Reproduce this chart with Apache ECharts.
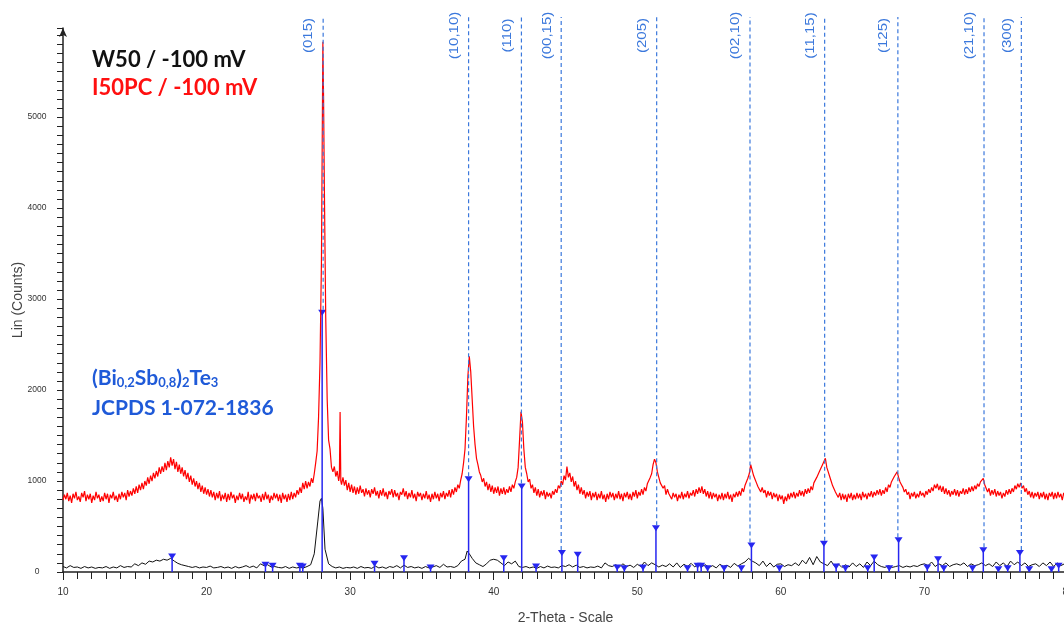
<!DOCTYPE html>
<html lang="en" style="height: 100%">
<head>
<meta charset="utf-8">
<title>XRD W50 / I50PC</title>
</head>
<body style="height: 100%; margin: 0; background: #fff">
<div id="container" style="width: 1064px; height: 623px"></div>

<script type="text/javascript" src="https://cdn.jsdelivr.net/npm/echarts/dist/echarts.min.js"></script>

<script type="text/javascript">

// W50 / -100 mV  (2-theta, counts)
var w50 = [
    [10.0,60],[10.25,45],[10.5,70],[10.75,50],[11.0,55],[11.25,40],[11.5,60],[11.75,45],[12.0,55],[12.25,40],
    [12.5,50],[12.75,45],[13.0,60],[13.25,40],[13.5,55],[13.75,45],[14.0,70],[14.25,50],[14.5,60],[14.75,55],
    [15.0,90],[15.25,70],[15.5,100],[15.75,85],[16.0,120],[16.25,110],[16.5,130],[16.75,120],[17.0,140],[17.25,130],
    [17.5,150],[17.75,120],[18.0,95],[18.25,80],[18.5,70],[18.75,60],[19.0,50],[19.25,60],[19.5,45],[19.75,55],
    [20.0,50],[20.25,65],[20.5,45],[20.75,50],[21.0,60],[21.25,45],[21.5,55],[21.75,40],[22.0,60],[22.25,45],
    [22.5,55],[22.75,70],[23.0,50],[23.25,65],[23.5,45],[23.75,90],[24.0,70],[24.25,80],[24.5,55],[24.75,60],
    [25.0,50],[25.25,45],[25.5,60],[25.75,40],[26.0,55],[26.25,45],[26.5,50],[26.75,45],[27.0,60],[27.25,80],
    [27.5,200],[27.75,560],[27.9,780],[28.0,810],[28.1,700],[28.25,250],[28.5,90],[28.75,60],[29.0,45],[29.25,55],
    [29.5,40],[29.75,50],[30.0,45],[30.25,55],[30.5,40],[30.75,60],[31.0,45],[31.25,50],[31.5,40],[31.75,65],
    [32.0,45],[32.25,55],[32.5,40],[32.75,60],[33.0,50],[33.25,70],[33.5,45],[33.75,75],[34.0,50],[34.25,60],
    [34.5,45],[34.75,55],[35.0,40],[35.25,60],[35.5,45],[35.75,55],[36.0,70],[36.25,50],[36.5,85],[36.75,55],
    [37.0,60],[37.25,50],[37.5,70],[37.75,120],[38.0,140],[38.15,230],[38.3,200],[38.5,150],[38.75,100],[39.0,80],
    [39.25,60],[39.5,90],[39.75,130],[40.0,140],[40.25,130],[40.5,100],[40.75,70],[41.0,110],[41.25,90],[41.5,120],
    [41.75,60],[42.0,50],[42.25,60],[42.5,45],[42.75,55],[43.0,40],[43.25,60],[43.5,45],[43.75,65],[44.0,50],
    [44.25,55],[44.5,45],[44.75,70],[45.0,60],[45.25,80],[45.5,55],[45.75,75],[46.0,50],[46.25,60],[46.5,45],
    [46.75,55],[47.0,50],[47.25,65],[47.5,45],[47.75,100],[48.0,70],[48.25,60],[48.5,80],[48.75,55],[49.0,90],
    [49.25,60],[49.5,75],[49.75,50],[50.0,85],[50.25,60],[50.5,110],[50.75,70],[51.0,100],[51.25,80],[51.5,55],
    [51.75,75],[52.0,60],[52.25,90],[52.5,55],[52.75,100],[53.0,50],[53.25,85],[53.5,60],[53.75,95],[54.0,55],
    [54.25,90],[54.5,60],[54.75,80],[55.0,50],[55.25,70],[55.5,45],[55.75,85],[56.0,60],[56.25,75],[56.5,50],
    [56.75,95],[57.0,65],[57.25,90],[57.5,110],[57.75,150],[58.0,120],[58.25,100],[58.5,70],[58.75,120],[59.0,60],
    [59.25,100],[59.5,55],[59.75,85],[60.0,90],[60.25,60],[60.5,80],[60.75,70],[61.0,100],[61.25,70],[61.5,130],
    [61.75,90],[62.0,160],[62.25,80],[62.5,170],[62.75,110],[63.0,90],[63.25,70],[63.5,120],[63.75,60],[64.0,90],
    [64.25,50],[64.5,80],[64.75,55],[65.0,100],[65.25,60],[65.5,90],[65.75,50],[66.0,110],[66.25,70],[66.5,120],
    [66.75,80],[67.0,60],[67.25,50],[67.5,70],[67.75,50],[68.0,60],[68.25,70],[68.5,50],[68.75,65],[69.0,55],
    [69.25,70],[69.5,60],[69.75,80],[70.0,90],[70.25,70],[70.5,110],[70.75,60],[71.0,90],[71.25,70],[71.5,100],
    [71.75,60],[72.0,80],[72.25,90],[72.5,75],[72.75,100],[73.0,60],[73.25,90],[73.5,70],[73.75,80],[74.0,100],
    [74.25,70],[74.5,90],[74.75,60],[75.0,110],[75.25,70],[75.5,100],[75.75,60],[76.0,120],[76.25,80],[76.5,110],
    [76.75,70],[77.0,100],[77.25,60],[77.5,80],[77.75,90],[78.0,60],[78.25,100],[78.5,70],[78.75,110],[79.0,60],
    [79.25,100],[79.5,70],[79.75,90],[80.0,70]
];

// I50PC / -100 mV  (2-theta, counts)
var i50pc = [
    [10.0,790],[10.1,850],[10.2,800],[10.3,870],[10.4,780],[10.5,840],[10.6,760],[10.7,860],[10.8,810],[10.9,880],
    [11.0,790],[11.1,830],[11.2,770],[11.3,870],[11.4,820],[11.5,890],[11.6,780],[11.7,850],[11.8,800],[11.9,860],
    [12.0,760],[12.1,840],[12.2,790],[12.3,880],[12.4,810],[12.5,850],[12.6,770],[12.7,830],[12.8,780],[12.9,870],
    [13.0,800],[13.1,860],[13.2,760],[13.3,850],[13.4,810],[13.5,880],[13.6,790],[13.7,840],[13.8,770],[13.9,860],
    [14.0,800],[14.1,880],[14.2,820],[14.3,870],[14.4,790],[14.5,900],[14.6,830],[14.7,890],[14.8,840],[14.9,920],
    [15.0,860],[15.1,940],[15.2,870],[15.3,960],[15.4,900],[15.5,980],[15.6,910],[15.7,1000],[15.8,950],[15.9,1040],
    [16.0,970],[16.1,1060],[16.2,1000],[16.3,1090],[16.4,1030],[16.5,1110],[16.6,1050],[16.7,1150],[16.8,1080],[16.9,1160],
    [17.0,1100],[17.1,1200],[17.2,1120],[17.3,1220],[17.4,1150],[17.5,1260],[17.6,1170],[17.7,1240],[17.8,1130],[17.9,1210],
    [18.0,1100],[18.1,1180],[18.2,1080],[18.3,1150],[18.4,1050],[18.5,1120],[18.6,1020],[18.7,1090],[18.8,990],[18.9,1060],
    [19.0,960],[19.1,1030],[19.2,940],[19.3,1000],[19.4,910],[19.5,980],[19.6,880],[19.7,950],[19.8,860],[19.9,930],
    [20.0,850],[20.1,910],[20.2,830],[20.3,900],[20.4,820],[20.5,880],[20.6,790],[20.7,870],[20.8,810],[20.9,890],
    [21.0,780],[21.1,850],[21.2,800],[21.3,870],[21.4,770],[21.5,860],[21.6,790],[21.7,880],[21.8,810],[21.9,850],
    [22.0,760],[22.1,840],[22.2,790],[22.3,870],[22.4,800],[22.5,860],[22.6,770],[22.7,830],[22.8,790],[22.9,880],
    [23.0,750],[23.1,850],[23.2,800],[23.3,860],[23.4,780],[23.5,870],[23.6,810],[23.7,840],[23.8,770],[23.9,860],
    [24.0,790],[24.1,880],[24.2,800],[24.3,850],[24.4,760],[24.5,840],[24.6,790],[24.7,870],[24.8,810],[24.9,860],
    [25.0,780],[25.1,850],[25.2,760],[25.3,870],[25.4,800],[25.5,850],[25.6,770],[25.7,860],[25.8,790],[25.9,880],
    [26.0,800],[26.1,870],[26.2,820],[26.3,900],[26.4,850],[26.5,930],[26.6,870],[26.7,980],[26.8,910],[26.9,1000],
    [27.0,920],[27.1,990],[27.2,940],[27.3,1030],[27.4,980],[27.5,1080],[27.6,1200],[27.7,1330],[27.8,1700],[27.9,2300],
    [28.0,3400],[28.05,4600],[28.1,5830],[28.15,5200],[28.2,4300],[28.3,2800],[28.4,1900],[28.5,1450],[28.6,1350],[28.7,1150],
    [28.8,1100],[28.9,1160],[29.0,1050],[29.1,1110],[29.2,1000],[29.25,1050],[29.3,1760],[29.35,1000],[29.4,960],[29.5,1040],
    [29.6,950],[29.7,1010],[29.8,900],[29.9,980],
    [30.0,880],[30.1,960],[30.2,870],[30.3,940],[30.4,850],[30.5,930],[30.6,860],[30.7,950],[30.8,870],[30.9,910],
    [31.0,830],[31.1,920],[31.2,850],[31.3,900],[31.4,820],[31.5,910],[31.6,860],[31.7,930],[31.8,840],[31.9,890],
    [32.0,810],[32.1,900],[32.2,840],[32.3,920],[32.4,830],[32.5,880],[32.6,800],[32.7,890],[32.8,850],[32.9,910],
    [33.0,820],[33.1,900],[33.2,830],[33.3,870],[33.4,790],[33.5,880],[33.6,850],[33.7,920],[33.8,830],[33.9,890],
    [34.0,800],[34.1,870],[34.2,820],[34.3,900],[34.4,810],[34.5,860],[34.6,780],[34.7,880],[34.8,830],[34.9,870],
    [35.0,790],[35.1,860],[35.2,810],[35.3,890],[35.4,800],[35.5,850],[35.6,770],[35.7,860],[35.8,800],[35.9,880],
    [36.0,810],[36.1,860],[36.2,780],[36.3,870],[36.4,820],[36.5,890],[36.6,800],[36.7,870],[36.8,830],[36.9,900],
    [37.0,820],[37.1,910],[37.2,850],[37.3,930],[37.4,880],[37.5,960],[37.6,920],[37.7,1010],[37.8,1080],[37.9,1200],
    [38.0,1350],[38.1,1700],[38.2,2150],[38.3,2370],[38.4,2200],[38.5,1900],[38.6,1600],[38.7,1400],[38.8,1250],[38.9,1180],
    [39.0,1100],[39.1,1060],[39.2,990],[39.3,1030],[39.4,940],[39.5,990],[39.6,900],[39.7,970],[39.8,880],[39.9,950],
    [40.0,860],[40.1,930],[40.2,870],[40.3,940],[40.4,840],[40.5,920],[40.6,860],[40.7,930],[40.8,850],[40.9,910],
    [41.0,870],[41.1,940],[41.2,880],[41.3,960],[41.4,920],[41.5,990],[41.6,1040],[41.7,1150],[41.8,1450],[41.9,1760],
    [42.0,1650],[42.1,1350],[42.2,1150],[42.3,1080],[42.4,990],[42.5,1020],[42.6,920],[42.7,960],[42.8,870],[42.9,930],
    [43.0,840],[43.1,910],[43.2,820],[43.3,890],[43.4,840],[43.5,900],[43.6,800],[43.7,880],[43.8,830],[43.9,870],
    [44.0,810],[44.1,890],[44.2,850],[44.3,910],[44.4,870],[44.5,950],[44.6,920],[44.7,1000],[44.8,960],[44.9,1060],
    [45.0,1010],[45.1,1160],[45.2,1040],[45.3,1090],[45.4,990],[45.5,1050],[45.6,940],[45.7,1000],[45.8,900],[45.9,960],
    [46.0,860],[46.1,930],[46.2,850],[46.3,900],[46.4,810],[46.5,880],[46.6,830],[46.7,890],[46.8,790],[46.9,870],
    [47.0,820],[47.1,880],[47.2,790],[47.3,860],[47.4,810],[47.5,890],[47.6,800],[47.7,850],[47.8,770],[47.9,860],
    [48.0,800],[48.1,880],[48.2,820],[48.3,870],[48.4,790],[48.5,860],[48.6,810],[48.7,890],[48.8,800],[48.9,860],
    [49.0,780],[49.1,870],[49.2,820],[49.3,880],[49.4,800],[49.5,860],[49.6,790],[49.7,880],[49.8,830],[49.9,900],
    [50.0,810],[50.1,880],[50.2,840],[50.3,910],[50.4,850],[50.5,930],[50.6,890],[50.7,970],[50.8,950],[50.9,1040],
    [51.0,1080],[51.1,1180],[51.2,1240],[51.3,1200],[51.4,1100],[51.5,1040],[51.6,980],[51.7,1000],[51.8,920],[51.9,950],
    [52.0,850],[52.1,910],[52.2,860],[52.3,880],[52.4,800],[52.5,870],[52.6,820],[52.7,860],[52.8,780],[52.9,850],
    [53.0,810],[53.1,880],[53.2,800],[53.3,860],[53.4,820],[53.5,890],[53.6,810],[53.7,870],[53.8,840],[53.9,900],
    [54.0,830],[54.1,910],[54.2,860],[54.3,930],[54.4,870],[54.5,940],[54.6,860],[54.7,910],[54.8,830],[54.9,890],
    [55.0,810],[55.1,880],[55.2,800],[55.3,870],[55.4,820],[55.5,860],[55.6,780],[55.7,850],[55.8,800],[55.9,870],
    [56.0,790],[56.1,860],[56.2,810],[56.3,880],[56.4,800],[56.5,850],[56.6,770],[56.7,860],[56.8,820],[56.9,880],
    [57.0,830],[57.1,890],[57.2,840],[57.3,920],[57.4,880],[57.5,950],[57.6,960],[57.7,1030],[57.8,1080],[57.9,1180],
    [58.0,1120],[58.1,1060],[58.2,1020],[58.3,980],[58.4,940],[58.5,960],[58.6,880],[58.7,930],[58.8,870],[58.9,900],
    [59.0,820],[59.1,890],[59.2,840],[59.3,880],[59.4,800],[59.5,870],[59.6,820],[59.7,860],[59.8,780],[59.9,850],
    [60.0,800],[60.1,840],[60.2,750],[60.3,830],[60.4,780],[60.5,860],[60.6,800],[60.7,870],[60.8,820],[60.9,880],
    [61.0,810],[61.1,870],[61.2,830],[61.3,900],[61.4,840],[61.5,890],[61.6,830],[61.7,910],[61.8,860],[61.9,920],
    [62.0,870],[62.1,940],[62.2,900],[62.3,980],[62.4,960],[62.5,1040],[62.6,1020],[62.7,1110],[62.8,1100],[62.9,1180],
    [63.0,1160],[63.1,1250],[63.2,1150],[63.3,1100],[63.4,1050],[63.5,1000],[63.6,950],[63.7,960],[63.8,880],[63.9,900],
    [64.0,820],[64.1,870],[64.2,790],[64.3,860],[64.4,800],[64.5,850],[64.6,770],[64.7,860],[64.8,810],[64.9,870],
    [65.0,790],[65.1,850],[65.2,800],[65.3,870],[65.4,810],[65.5,860],[65.6,790],[65.7,880],[65.8,820],[65.9,860],
    [66.0,800],[66.1,870],[66.2,830],[66.3,890],[66.4,820],[66.5,880],[66.6,840],[66.7,900],[66.8,850],[66.9,910],
    [67.0,840],[67.1,900],[67.2,860],[67.3,930],[67.4,880],[67.5,960],[67.6,930],[67.7,990],[67.8,980],[67.9,1050],
    [68.0,1060],[68.1,1100],[68.2,1040],[68.3,990],[68.4,960],[68.5,930],[68.6,880],[68.7,910],[68.8,850],[68.9,880],
    [69.0,800],[69.1,870],[69.2,830],[69.3,880],[69.4,810],[69.5,860],[69.6,820],[69.7,890],[69.8,840],[69.9,870],
    [70.0,820],[70.1,890],[70.2,850],[70.3,910],[70.4,870],[70.5,930],[70.6,890],[70.7,960],[70.8,920],[70.9,970],
    [71.0,900],[71.1,950],[71.2,880],[71.3,940],[71.4,860],[71.5,920],[71.6,850],[71.7,900],[71.8,830],[71.9,890],
    [72.0,850],[72.1,910],[72.2,840],[72.3,900],[72.4,830],[72.5,890],[72.6,860],[72.7,920],[72.8,850],[72.9,910],
    [73.0,860],[73.1,930],[73.2,880],[73.3,940],[73.4,890],[73.5,950],[73.6,910],[73.7,970],[73.8,940],[73.9,990],
    [74.0,1000],[74.1,1030],[74.2,960],[74.3,940],[74.4,880],[74.5,920],[74.6,840],[74.7,900],[74.8,850],[74.9,910],
    [75.0,830],[75.1,890],[75.2,840],[75.3,880],[75.4,810],[75.5,870],[75.6,830],[75.7,900],[75.8,850],[75.9,910],
    [76.0,860],[76.1,920],[76.2,880],[76.3,950],[76.4,910],[76.5,970],[76.6,930],[76.7,980],[76.8,920],[76.9,950],
    [77.0,880],[77.1,920],[77.2,850],[77.3,890],[77.4,820],[77.5,880],[77.6,810],[77.7,870],[77.8,830],[77.9,880],
    [78.0,800],[78.1,870],[78.2,820],[78.3,880],[78.4,800],[78.5,860],[78.6,790],[78.7,870],[78.8,830],[78.9,880],
    [79.0,800],[79.1,870],[79.2,810],[79.3,880],[79.4,820],[79.5,860],[79.6,790],[79.7,870],[79.8,830],[79.9,880],
    [80.0,810]
];

// JCPDS 1-072-1836 reference lines (2-theta, counts)
var refLines = [
    [17.6,170],[24.1,80],[24.6,70],[26.5,70],[26.7,60],[28.05,2850],[31.7,90],[33.75,150],[35.6,50],[38.25,1020],
    [40.7,150],[41.95,940],[42.95,60],[44.75,210],[45.85,190],[48.6,50],[49.1,40],[50.4,50],[51.3,480],[53.5,40],
    [54.2,70],[54.45,70],[54.9,40],[56.05,40],[57.25,40],[57.95,290],[59.9,40],[63.0,310],[63.85,60],[64.5,40],
    [66.05,40],[66.5,160],[67.55,40],[68.2,350],[70.2,50],[70.95,140],[71.35,40],[73.35,40],[74.1,240],[75.15,30],
    [75.8,40],[76.65,210],[77.3,30],[78.85,30],[79.35,70]
];

// indexed reflections
var hklNames = ['(015)', '(10,10)', '(110)', '(00,15)', '(205)', '(02,10)', '(11,15)', '(125)', '(21,10)', '(300)'];
var hklTheta = [28.12, 38.25, 41.93, 44.7, 51.35, 57.85, 63.05, 68.15, 74.15, 76.75];
var hklCounts = [2850, 1020, 940, 210, 480, 290, 310, 350, 240, 210];

var dom = document.getElementById('container');
var myChart = echarts.init(dom, null, { renderer: 'canvas' });

var axisFont = '"Liberation Sans", Arial, sans-serif';
var blue = '#2626f0';
var hklBlue = '#3b78dc';

var option = {
    animation: false,
    backgroundColor: '#ffffff',
    grid: { left: 63, right: -4, top: 28, bottom: 51, outerBoundsMode: 'none', containLabel: false },
    xAxis: {
        type: 'value',
        min: 10,
        max: 80,
        interval: 10,
        name: '2-Theta - Scale',
        nameLocation: 'middle',
        nameGap: 39,
        nameTextStyle: { fontFamily: axisFont, fontSize: 14, color: '#444' },
        axisLine: { lineStyle: { color: '#222', width: 1.5 } },
        axisTick: { length: 8, lineStyle: { color: '#222' } },
        minorTick: { show: true, splitNumber: 10, length: 7, lineStyle: { color: '#222' } },
        axisLabel: { fontFamily: axisFont, fontSize: 10, color: '#333', margin: 15 },
        splitLine: { show: false }
    },
    yAxis: {
        type: 'value',
        min: 0,
        max: 5980,
        interval: 1000,
        name: 'Lin (Counts)',
        nameLocation: 'middle',
        nameGap: 38,
        nameMoveOverlap: false,
        nameTextStyle: { fontFamily: axisFont, fontSize: 14, color: '#444' },
        axisLine: { show: true, symbol: ['none', 'arrow'], symbolSize: [6, 9], lineStyle: { color: '#222', width: 1.5 } },
        axisTick: { show: true, length: 6, lineStyle: { color: '#222' } },
        minorTick: { show: true, splitNumber: 10, length: 6, lineStyle: { color: '#222' } },
        axisLabel: {
            fontFamily: axisFont, fontSize: 8.5, color: '#333', align: 'center', margin: 26, showMaxLabel: false,
            formatter: function (v) { return String(v); }
        },
        splitLine: { show: false }
    },
    graphic: [
        { type: 'text', left: 92, top: 49, style: { text: 'W50 / -100 mV', fill: '#111', font: 'bold 22px Lato, "Open Sans", sans-serif' } },
        { type: 'text', left: 92, top: 77, style: { text: 'I50PC / -100 mV', fill: '#ff1010', font: 'bold 22px Lato, "Open Sans", sans-serif' } },
        {
            type: 'text', left: 92, top: 368,
            style: {
                rich: {
                    m: { fontFamily: 'Lato, "Open Sans", sans-serif', fontWeight: 'bold', fontSize: 21, fill: '#1f5ad8', lineHeight: 26, verticalAlign: 'bottom' },
                    s: { fontFamily: 'Lato, "Open Sans", sans-serif', fontWeight: 'bold', fontSize: 13, fill: '#1f5ad8', lineHeight: 21, verticalAlign: 'bottom' }
                },
                text: '{m|(Bi}{s|0,2}{m|Sb}{s|0,8}{m|)}{s|2}{m|Te}{s|3}'
            }
        },
        { type: 'text', left: 92, top: 398, style: { text: 'JCPDS 1-072-1836', fill: '#1f5ad8', font: 'bold 21px Lato, "Open Sans", sans-serif' } }
    ],
    series: [
        {
            name: 'W50 / -100 mV',
            type: 'line',
            data: w50,
            showSymbol: false,
            lineStyle: { color: '#111', width: 1 },
            z: 2
        },
        {
            name: 'JCPDS 1-072-1836',
            type: 'custom',
            data: refLines,
            clip: false,
            z: 3,
            renderItem: function (params, api) {
                var base = api.coord([api.value(0), 0]);
                var top = api.coord([api.value(0), api.value(1)]);
                return {
                    type: 'group',
                    children: [
                        { type: 'line', shape: { x1: base[0], y1: base[1], x2: top[0], y2: top[1] }, style: { stroke: blue, lineWidth: 1.5 } },
                        { type: 'polygon', shape: { points: [[top[0] - 4, top[1] - 3], [top[0] + 4, top[1] - 3], [top[0], top[1] + 3]] }, style: { fill: blue } }
                    ]
                };
            }
        },
        {
            name: 'I50PC / -100 mV',
            type: 'line',
            data: i50pc,
            showSymbol: false,
            lineStyle: { color: '#ff0000', width: 1.2 },
            z: 4
        },
        {
            name: 'hkl',
            type: 'custom',
            data: hklTheta.map(function (t, i) { return [t, hklCounts[i]]; }),
            clip: false,
            z: 5,
            renderItem: function (params, api) {
                var p = api.coord([api.value(0), api.value(1)]);
                return {
                    type: 'group',
                    children: [
                        { type: 'line', shape: { x1: p[0], y1: p[1] - 3, x2: p[0], y2: 17 }, style: { stroke: hklBlue, lineWidth: 1.2, lineDash: [4, 3] } },
                        {
                            type: 'text', x: p[0] - 14, y: 35.5, rotation: Math.PI / 2, scaleX: 1.25,
                            style: { text: hklNames[params.dataIndex], fill: hklBlue, font: '12px ' + axisFont, align: 'center', verticalAlign: 'middle' }
                        }
                    ]
                };
            }
        }
    ]
};

if (option && typeof option === 'object') {
    myChart.setOption(option);
}

window.addEventListener('resize', myChart.resize);
</script>
</body>
</html>
